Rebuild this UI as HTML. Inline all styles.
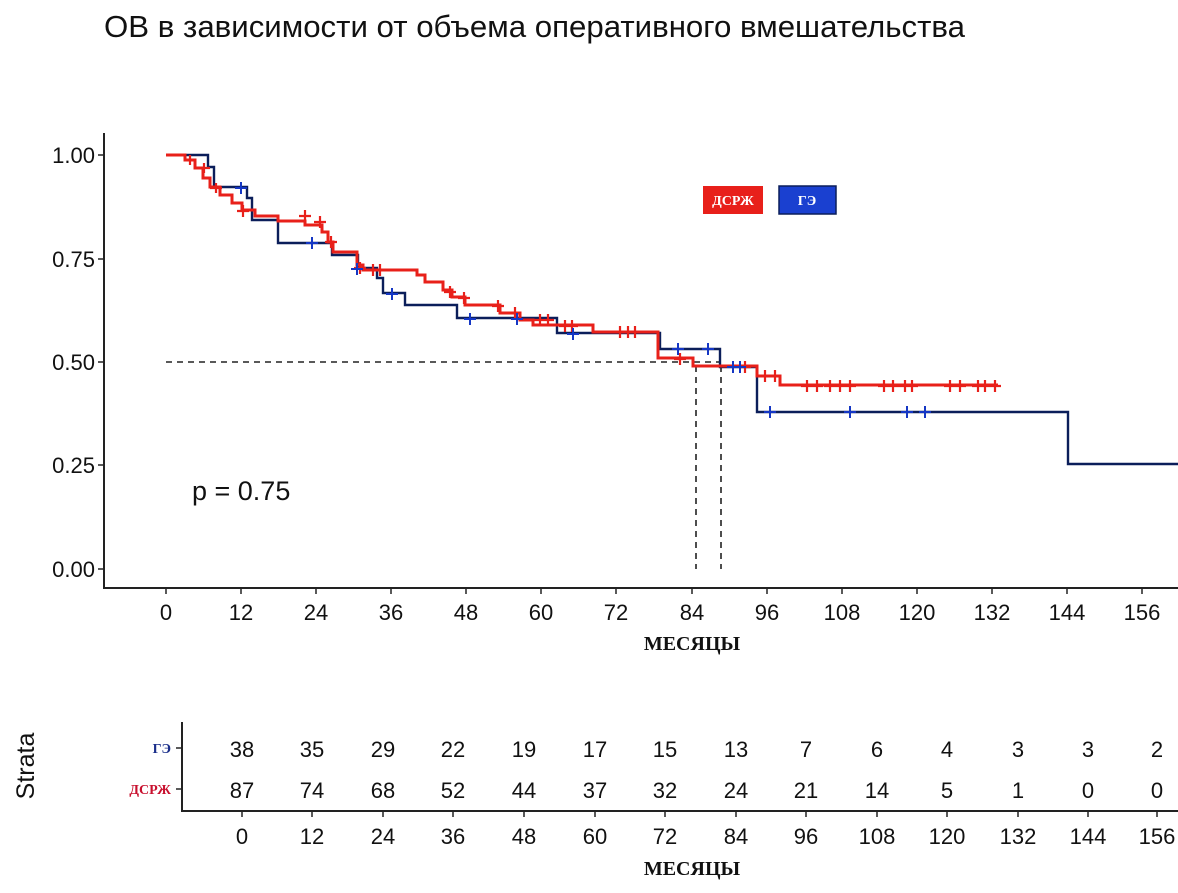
<!DOCTYPE html>
<html><head><meta charset="utf-8"><style>
html,body{margin:0;padding:0;background:#fff;}
svg{display:block;font-family:"Liberation Sans",sans-serif;}
.t{font-size:22px;fill:#111;}
.s{font-family:"Liberation Serif","DejaVu Serif",serif;}
</style></head><body>
<svg width="1178" height="893" viewBox="0 0 1178 893" xmlns="http://www.w3.org/2000/svg">
<text x="104" y="37" font-size="31" fill="#111" textLength="861" lengthAdjust="spacingAndGlyphs">ОВ в зависимости от объема оперативного вмешательства</text>
<line x1="104" y1="133" x2="104" y2="588" stroke="#222" stroke-width="2"/>
<line x1="103" y1="588" x2="1178" y2="588" stroke="#222" stroke-width="2"/>
<g stroke="#222" stroke-width="1.5">
<line x1="98" y1="155" x2="104" y2="155"/><line x1="98" y1="259" x2="104" y2="259"/><line x1="98" y1="362" x2="104" y2="362"/><line x1="98" y1="465" x2="104" y2="465"/><line x1="98" y1="569" x2="104" y2="569"/>
</g>
<g class="t" text-anchor="end">
<text x="95" y="163">1.00</text><text x="95" y="267">0.75</text><text x="95" y="370">0.50</text><text x="95" y="473">0.25</text><text x="95" y="577">0.00</text>
</g>
<g stroke="#222" stroke-width="1.5">
<line x1="166" y1="588" x2="166" y2="594"/><line x1="241" y1="588" x2="241" y2="594"/><line x1="316" y1="588" x2="316" y2="594"/><line x1="391" y1="588" x2="391" y2="594"/><line x1="466" y1="588" x2="466" y2="594"/><line x1="541" y1="588" x2="541" y2="594"/><line x1="616" y1="588" x2="616" y2="594"/><line x1="692" y1="588" x2="692" y2="594"/><line x1="767" y1="588" x2="767" y2="594"/><line x1="842" y1="588" x2="842" y2="594"/><line x1="917" y1="588" x2="917" y2="594"/><line x1="992" y1="588" x2="992" y2="594"/><line x1="1067" y1="588" x2="1067" y2="594"/><line x1="1142" y1="588" x2="1142" y2="594"/>
</g>
<g class="t" text-anchor="middle">
<text x="166" y="620">0</text><text x="241" y="620">12</text><text x="316" y="620">24</text><text x="391" y="620">36</text><text x="466" y="620">48</text><text x="541" y="620">60</text><text x="616" y="620">72</text><text x="692" y="620">84</text><text x="767" y="620">96</text><text x="842" y="620">108</text><text x="917" y="620">120</text><text x="992" y="620">132</text><text x="1067" y="620">144</text><text x="1142" y="620">156</text>
</g>
<text x="692" y="650" class="s" font-size="20" font-weight="bold" text-anchor="middle" fill="#111">МЕСЯЦЫ</text>
<g stroke="#222" stroke-width="1.6" stroke-dasharray="6,5" fill="none">
<line x1="166" y1="362" x2="720" y2="362"/>
<line x1="696" y1="366" x2="696" y2="569"/>
<line x1="721" y1="366" x2="721" y2="569"/>
</g>
<polyline fill="none" stroke="#0b1e5a" stroke-width="2.4" points="166,155 208,155 208,167 214,167 214,187 247,187 247,198 252,198 252,220 278,220 278,243 332,243 332,255 358,255 358,268 377,268 377,278 383,278 383,293 405,293 405,305 457,305 457,318 557,318 557,333 660,333 660,349 720,349 720,367 757,367 757,412 1068,412 1068,464 1178,464"/>
<polyline fill="none" stroke="#e8201a" stroke-width="3" points="166,155 185,155 185,160 195,160 195,168 203,168 203,178 210,178 210,187 220,187 220,195 232,195 232,203 242,203 242,210 255,210 255,216 278,216 278,221 305,221 305,225 322,225 322,232 328,232 328,242 333,242 333,252 357,252 357,265 363,265 363,270 417,270 417,275 425,275 425,282 443,282 443,290 452,290 452,297 465,297 465,305 500,305 500,313 520,313 520,320 533,320 533,325 593,325 593,332 658,332 658,358 693,358 693,366 757,366 757,376 780,376 780,385 998,385"/>
<g stroke="#e8201a" stroke-width="2.2">
<path d="M190,155v10M204,163v10M216,183v10M243,205v12M305,210v12M320,216v12M331,236v12M360,262v12M373,264v12M380,264v12M450,286v12M464,292v12M498,300v12M515,307v12M540,314v12M548,314v12M565,320v12M572,320v12M620,326v12M628,326v12M635,326v12M680,353v12M745,361v12M765,370v12M775,370v12M807,380v12M817,380v12M830,380v12M840,380v12M850,380v12M884,380v12M893,380v12M905,380v12M912,380v12M950,380v12M960,380v12M978,380v12M985,380v12M995,380v12"/>
<path d="M184,160h12M198,168h12M210,188h12M237,211h12M299,216h12M314,222h12M325,242h12M354,268h12M367,270h12M374,270h12M444,292h12M458,298h12M492,306h12M509,313h12M534,320h12M542,320h12M559,326h12M566,326h12M614,332h12M622,332h12M629,332h12M674,359h12M739,367h12M759,376h12M769,376h12M801,386h12M811,386h12M824,386h12M834,386h12M844,386h12M878,386h12M887,386h12M899,386h12M906,386h12M944,386h12M954,386h12M972,386h12M979,386h12M989,386h12"/>
</g>
<g stroke="#1537c4" stroke-width="2">
<path d="M241,182v12M312,237v12M357,263v12M392,288v12M470,313v12M517,313v12M573,328v12M678,343v12M708,343v12M733,361v12M740,361v12M770,406v12M850,406v12M907,406v12M925,406v12"/>
<path d="M235,188h12M306,243h12M351,269h12M386,294h12M464,319h12M511,319h12M567,334h12M672,349h12M702,349h12M727,367h12M734,367h12M764,412h12M844,412h12M901,412h12M919,412h12"/>
</g>
<text x="192" y="500" font-size="27" fill="#111">p = 0.75</text>
<rect x="703" y="186" width="60" height="28" fill="#e8201a"/>
<text x="733" y="205" class="s" font-size="14" font-weight="bold" fill="#fff" text-anchor="middle">ДСРЖ</text>
<rect x="779" y="186" width="57" height="28" fill="#1a40d0" stroke="#0b1e5a" stroke-width="1.5"/>
<text x="807" y="205" class="s" font-size="14" font-weight="bold" fill="#fff" text-anchor="middle">ГЭ</text>
<line x1="182" y1="722" x2="182" y2="811" stroke="#222" stroke-width="2"/>
<line x1="181" y1="811" x2="1178" y2="811" stroke="#222" stroke-width="2"/>
<g stroke="#222" stroke-width="1.5"><line x1="176" y1="748" x2="182" y2="748"/><line x1="176" y1="789" x2="182" y2="789"/></g>
<text x="171" y="753" class="s" font-size="14" font-weight="bold" fill="#1a2e8a" text-anchor="end">ГЭ</text>
<text x="171" y="794" class="s" font-size="14" font-weight="bold" fill="#c8102e" text-anchor="end">ДСРЖ</text>
<text transform="translate(34,766) rotate(-90)" font-size="25" fill="#111" text-anchor="middle">Strata</text>
<g class="t" text-anchor="middle">
<text x="242" y="757">38</text><text x="312" y="757">35</text><text x="383" y="757">29</text><text x="453" y="757">22</text><text x="524" y="757">19</text><text x="595" y="757">17</text><text x="665" y="757">15</text><text x="736" y="757">13</text><text x="806" y="757">7</text><text x="877" y="757">6</text><text x="947" y="757">4</text><text x="1018" y="757">3</text><text x="1088" y="757">3</text><text x="1157" y="757">2</text>
<text x="242" y="798">87</text><text x="312" y="798">74</text><text x="383" y="798">68</text><text x="453" y="798">52</text><text x="524" y="798">44</text><text x="595" y="798">37</text><text x="665" y="798">32</text><text x="736" y="798">24</text><text x="806" y="798">21</text><text x="877" y="798">14</text><text x="947" y="798">5</text><text x="1018" y="798">1</text><text x="1088" y="798">0</text><text x="1157" y="798">0</text>
<text x="242" y="844">0</text><text x="312" y="844">12</text><text x="383" y="844">24</text><text x="453" y="844">36</text><text x="524" y="844">48</text><text x="595" y="844">60</text><text x="665" y="844">72</text><text x="736" y="844">84</text><text x="806" y="844">96</text><text x="877" y="844">108</text><text x="947" y="844">120</text><text x="1018" y="844">132</text><text x="1088" y="844">144</text><text x="1157" y="844">156</text>
</g>
<g stroke="#222" stroke-width="1.5">
<line x1="242" y1="811" x2="242" y2="817"/><line x1="312" y1="811" x2="312" y2="817"/><line x1="383" y1="811" x2="383" y2="817"/><line x1="453" y1="811" x2="453" y2="817"/><line x1="524" y1="811" x2="524" y2="817"/><line x1="595" y1="811" x2="595" y2="817"/><line x1="665" y1="811" x2="665" y2="817"/><line x1="736" y1="811" x2="736" y2="817"/><line x1="806" y1="811" x2="806" y2="817"/><line x1="877" y1="811" x2="877" y2="817"/><line x1="947" y1="811" x2="947" y2="817"/><line x1="1018" y1="811" x2="1018" y2="817"/><line x1="1088" y1="811" x2="1088" y2="817"/><line x1="1157" y1="811" x2="1157" y2="817"/>
</g>
<text x="692" y="875" class="s" font-size="20" font-weight="bold" text-anchor="middle" fill="#111">МЕСЯЦЫ</text>
</svg>
</body></html>
